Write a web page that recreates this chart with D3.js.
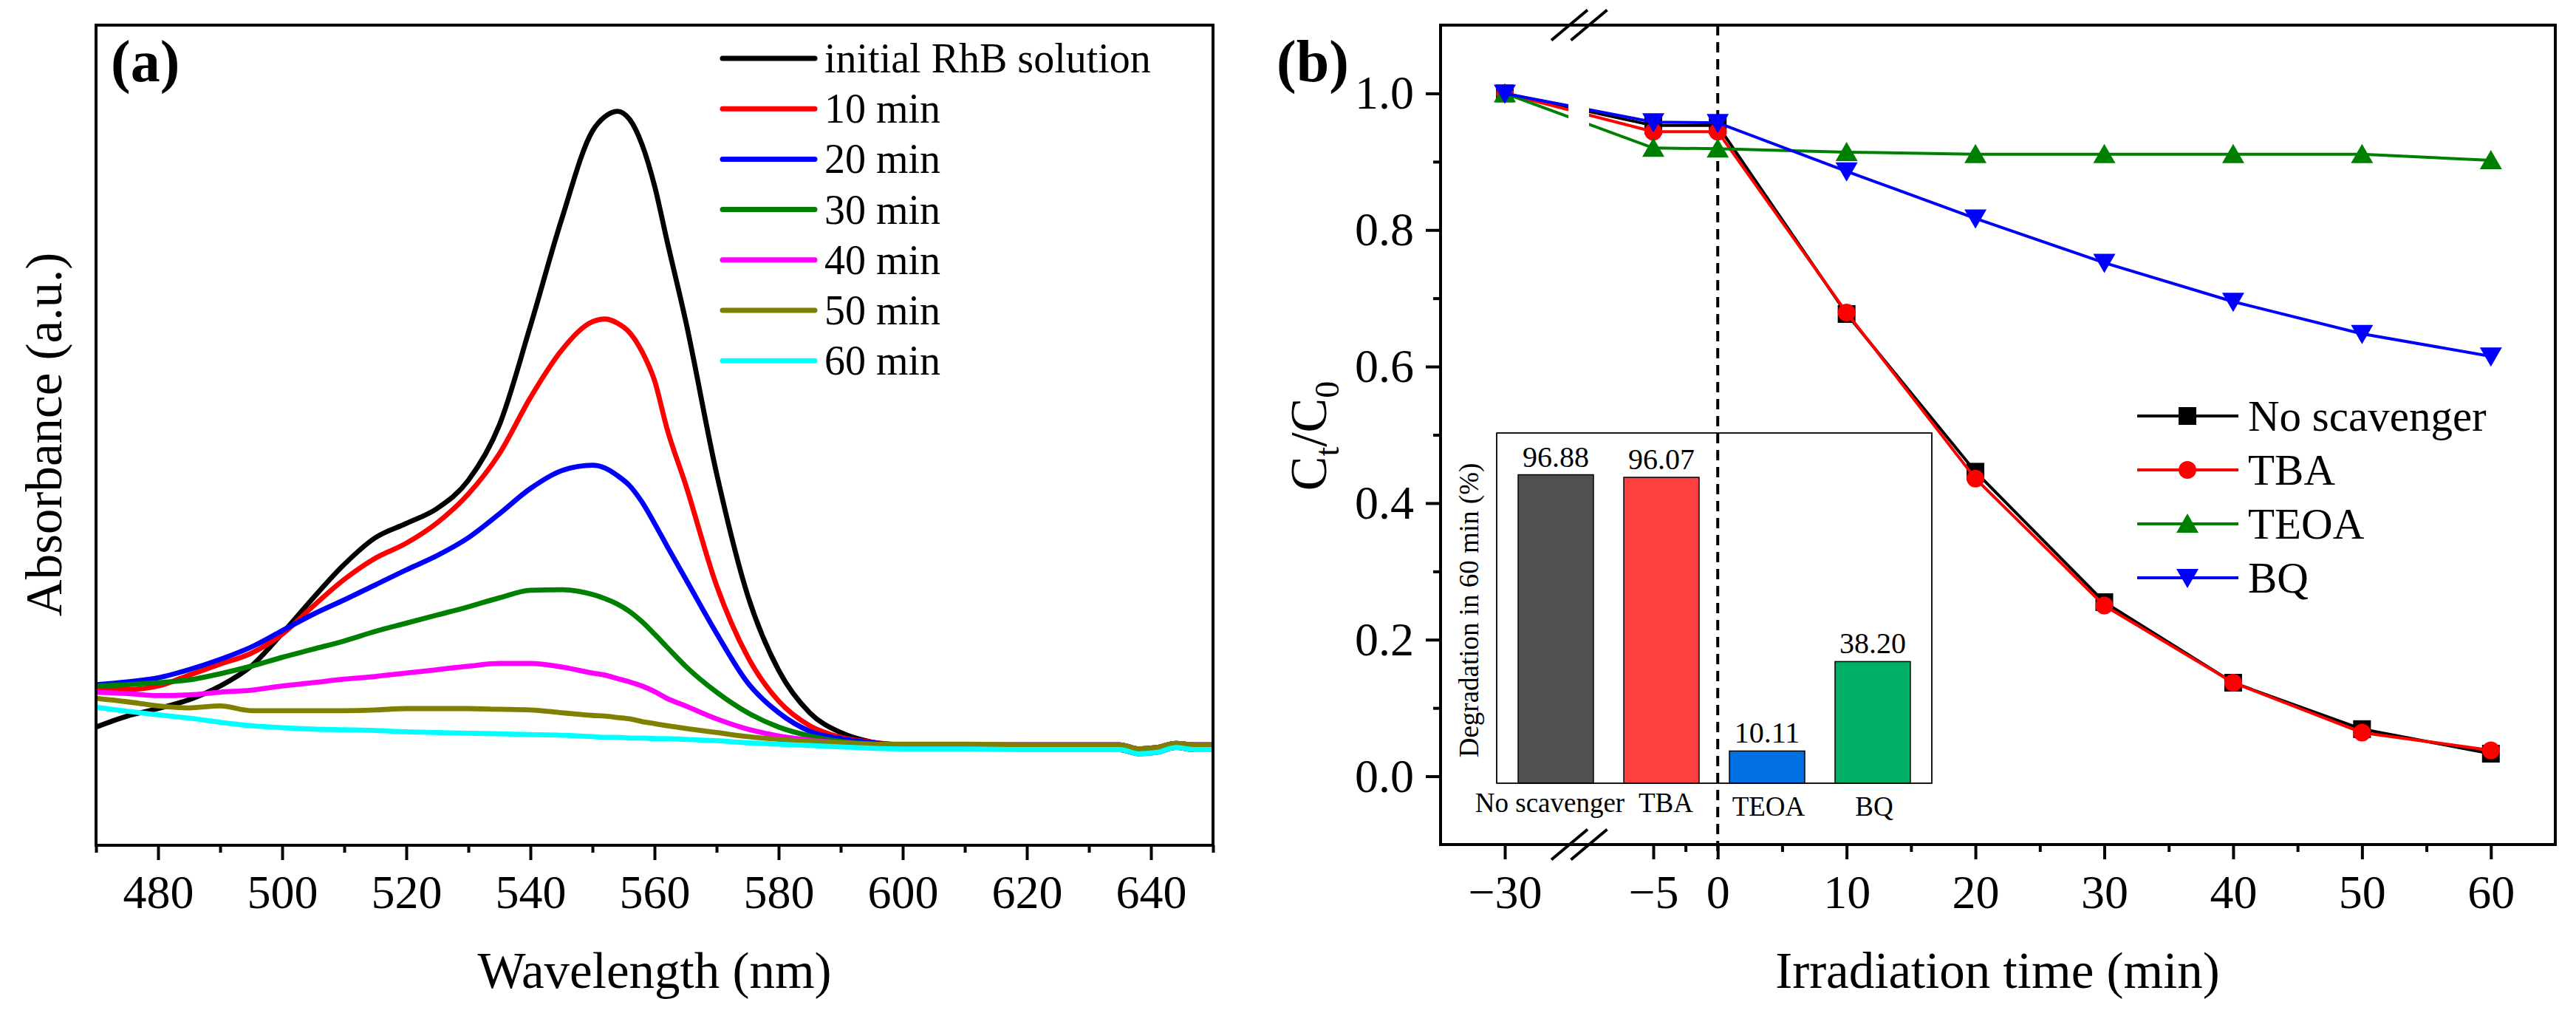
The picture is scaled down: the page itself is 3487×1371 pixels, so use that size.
<!DOCTYPE html>
<html><head><meta charset="utf-8">
<script src="https://cdn.jsdelivr.net/npm/d3@7"></script>
<style>
body{margin:0;background:#fff}
svg{display:block;background:#fff}
</style>
</head><body>
<svg id="c" width="3487" height="1371"></svg>
<script>
// ---------------- DATA: panel (a) UV-vis spectra ----------------
const wavelengths = [470,475,480,485,490,495,500,505,510,515,520,525,530,535,540,545,550,552,554,556,558,560,562,565,570,575,580,585,590,595,600,610,620,630,635,638,641,644,647,650];
const absInitial = [0.173,0.189,0.200,0.213,0.233,0.262,0.310,0.362,0.411,0.450,0.471,0.493,0.534,0.615,0.760,0.915,1.045,1.066,1.074,1.062,1.025,0.965,0.885,0.768,0.544,0.366,0.256,0.194,0.165,0.151,0.146,0.144,0.142,0.141,0.140,0.134,0.136,0.143,0.140,0.140];
const abs10 = [0.228,0.228,0.233,0.249,0.265,0.281,0.309,0.350,0.389,0.420,0.442,0.472,0.514,0.573,0.655,0.724,0.766,0.770,0.764,0.750,0.722,0.680,0.610,0.528,0.380,0.276,0.211,0.175,0.158,0.151,0.147,0.147,0.147,0.147,0.147,0.141,0.143,0.149,0.147,0.147];
const abs20 = [0.235,0.239,0.245,0.257,0.272,0.290,0.314,0.338,0.359,0.381,0.403,0.424,0.450,0.485,0.522,0.548,0.556,0.552,0.541,0.526,0.502,0.471,0.438,0.390,0.310,0.238,0.194,0.167,0.156,0.150,0.147,0.147,0.147,0.147,0.147,0.141,0.143,0.149,0.147,0.147];
const abs30 = [0.233,0.235,0.238,0.242,0.251,0.262,0.275,0.287,0.299,0.313,0.325,0.337,0.349,0.362,0.373,0.374,0.367,0.361,0.353,0.342,0.327,0.309,0.290,0.262,0.224,0.194,0.173,0.160,0.152,0.148,0.147,0.147,0.147,0.147,0.147,0.141,0.143,0.149,0.147,0.147];
const abs40 = [0.224,0.222,0.219,0.220,0.224,0.227,0.233,0.238,0.243,0.247,0.252,0.257,0.262,0.266,0.266,0.261,0.252,0.249,0.244,0.239,0.233,0.225,0.215,0.204,0.185,0.170,0.160,0.154,0.150,0.148,0.147,0.147,0.147,0.147,0.147,0.141,0.143,0.149,0.147,0.147];
const abs50 = [0.215,0.210,0.204,0.201,0.204,0.197,0.197,0.197,0.197,0.198,0.200,0.200,0.200,0.199,0.198,0.194,0.190,0.189,0.187,0.185,0.181,0.178,0.175,0.171,0.165,0.159,0.155,0.152,0.150,0.148,0.148,0.148,0.147,0.147,0.147,0.141,0.143,0.149,0.147,0.147];
const abs60 = [0.202,0.196,0.191,0.186,0.180,0.175,0.172,0.170,0.169,0.168,0.166,0.165,0.164,0.163,0.162,0.161,0.159,0.158,0.158,0.157,0.157,0.156,0.156,0.155,0.153,0.150,0.148,0.146,0.144,0.142,0.141,0.141,0.140,0.140,0.140,0.134,0.136,0.143,0.140,0.140];
const spectraNames = ["initial RhB solution","10 min","20 min","30 min","40 min","50 min","60 min"];
const spectraColors = ["#000000","#FF0000","#0000FF","#008000","#FF00FF","#808000","#00FFFF"];
const wlTicks = [480,500,520,540,560,580,600,620,640];
const wlMinor = [470,490,510,530,550,570,590,610,630,650];

// ---------------- DATA: panel (b) kinetics ----------------
const times = [-30,-5,0,10,20,30,40,50,60];
const noScavenger = [1.000,0.953,0.953,0.677,0.446,0.255,0.137,0.069,0.033];
const tba = [1.000,0.944,0.944,0.679,0.436,0.250,0.137,0.064,0.038];
const teoa = [1.000,0.920,0.919,0.914,0.911,0.911,0.911,0.911,0.902];
const bq = [1.000,0.958,0.957,0.886,0.817,0.752,0.695,0.648,0.615];
const kinNames = ["No scavenger","TBA","TEOA","BQ"];
const kinColors = ["#000000","#FF0000","#008000","#0000FF"];
const kinSymbols = ["square","circle","triUp","triDown"];
const timeTicks = [-30,-5,0,10,20,30,40,50,60];
const timeMinor = [-2.5,5,15,25,35,45,55];
const ctTicks = [0,0.2,0.4,0.6,0.8,1.0];
const ctMinor = [0.1,0.3,0.5,0.7,0.9];

// ---------------- DATA: inset bars ----------------
const barCats = ["No scavenger","TBA","TEOA","BQ"];
const barVals = [96.88,96.07,10.11,38.20];
const barColors = ["#505050","#FF4040","#0070E0","#00AE64"];
const barLabelShift = [-8,6,2,2];

const FONT = '"Liberation Serif","Times New Roman",Times,serif';
const svg = d3.select('#c');

function styleAxis(g, fs){
  g.attr('font-family', FONT).attr('font-size', fs);
  g.select('.domain').remove();
  g.selectAll('.tick line').attr('stroke','#000').attr('stroke-width',4);
  g.selectAll('.tick text').attr('fill','#000').attr('font-family',FONT).attr('font-size',fs);
}

// ================= PANEL (a) =================
const xA = d3.scaleLinear().domain([470,650]).range([130,1642]);
const yA = d3.scaleLinear().domain([0,1.2]).range([1144,34]);
const gA = svg.append('g');

const series = [absInitial,abs10,abs20,abs30,abs40,abs50,abs60];
const lineA = d3.line().x(d=>xA(d[0])).y(d=>yA(d[1])).curve(d3.curveMonotoneX);
series.forEach((s,i)=>{
  gA.append('path').datum(wavelengths.map((w,j)=>[w,s[j]]))
    .attr('d',lineA).attr('fill','none').attr('stroke',spectraColors[i])
    .attr('stroke-width',6.8).attr('stroke-linejoin','round');
});

// frame
gA.append('rect').attr('x',130).attr('y',34).attr('width',1642-130).attr('height',1144-34)
  .attr('fill','none').attr('stroke','#000').attr('stroke-width',4);

const axA = gA.append('g').attr('transform','translate(0,1144)')
  .call(d3.axisBottom(xA).tickValues(wlTicks).tickSize(20).tickSizeOuter(0).tickPadding(20).tickFormat(d3.format('d')));
styleAxis(axA,64);
const axAm = gA.append('g').attr('transform','translate(0,1144)')
  .call(d3.axisBottom(xA).tickValues(wlMinor).tickSize(10).tickSizeOuter(0).tickFormat(''));
styleAxis(axAm,64);

// legend (a)
spectraNames.forEach((n,i)=>{
  const yy = 79 + i*68.2;
  gA.append('line').attr('x1',978).attr('x2',1103).attr('y1',yy).attr('y2',yy)
    .attr('stroke',spectraColors[i]).attr('stroke-width',7).attr('stroke-linecap','round');
  gA.append('text').attr('x',1116).attr('y',yy+19).text(n)
    .attr('font-family',FONT).attr('font-size',56).attr('fill','#000');
});

gA.append('text').attr('x',150).attr('y',110).text('(a)')
  .attr('font-family',FONT).attr('font-size',80).attr('font-weight','bold');
gA.append('text').attr('x',886).attr('y',1337).attr('text-anchor','middle').text('Wavelength (nm)')
  .attr('font-family',FONT).attr('font-size',69);
gA.append('text').attr('transform','translate(83,588) rotate(-90)').attr('text-anchor','middle')
  .text('Absorbance (a.u.)').attr('font-family',FONT).attr('font-size',69);

// ================= PANEL (b) =================
const xB = d3.scaleLinear().domain([-35,-30,-5,65]).range([1950,2037,2238,3459]);
const yB = d3.scaleLinear().domain([-0.1,1.1]).range([1143,34]);
const gB = svg.append('g');

// inset bar chart
const xI = d3.scaleBand().domain(barCats).range([2026,2615]).paddingInner(0.287).paddingOuter(0.203);
const yI = d3.scaleLinear().domain([0,110]).range([1060,586]);
const gI = gB.append('g');
gI.selectAll('rect.bar').data(barVals).enter().append('rect')
  .attr('x',(d,i)=>xI(barCats[i])).attr('width',xI.bandwidth())
  .attr('y',d=>yI(d)).attr('height',d=>yI(0)-yI(d))
  .attr('fill',(d,i)=>barColors[i]).attr('stroke','#000').attr('stroke-width',1.5);
gI.selectAll('text.val').data(barVals).enter().append('text')
  .attr('x',(d,i)=>xI(barCats[i])+xI.bandwidth()/2).attr('y',d=>yI(d)-11)
  .attr('text-anchor','middle').text(d=>d.toFixed(2))
  .attr('font-family',FONT).attr('font-size',40);
gI.append('rect').attr('x',2026).attr('y',586).attr('width',2615-2026).attr('height',1060-586)
  .attr('fill','none').attr('stroke','#000').attr('stroke-width',1.8);
gI.selectAll('text.cat').data(barCats).enter().append('text')
  .attr('x',(d,i)=>xI(d)+xI.bandwidth()/2+barLabelShift[i]).attr('y',(d,i)=>i<2?1099:1104)
  .attr('text-anchor','middle').text(d=>d)
  .attr('font-family',FONT).attr('font-size',37);
gI.append('text').attr('transform','translate(2001,826) rotate(-90)').attr('text-anchor','middle')
  .text('Degradation in 60 min (%)').attr('font-family',FONT).attr('font-size',37);

// clip for axis-break gap
const defs = svg.append('defs');
const cp = defs.append('clipPath').attr('id','gap');
cp.append('rect').attr('x',1940).attr('y',0).attr('width',2123-1940).attr('height',1371);
cp.append('rect').attr('x',2151).attr('y',0).attr('width',3487-2151).attr('height',1371);

// dashed line at t=0
gB.append('line').attr('x1',xB(0)).attr('x2',xB(0)).attr('y1',34).attr('y2',1163)
  .attr('stroke','#000').attr('stroke-width',4).attr('stroke-dasharray','14,9');

function symbolPath(type, cx, cy){
  if(type==='square') return `M${cx-12},${cy-12}h24v24h-24Z`;
  if(type==='circle') return `M${cx-12},${cy}a12,12 0 1,0 24,0a12,12 0 1,0 -24,0Z`;
  if(type==='triUp') return `M${cx},${cy-14}L${cx+15},${cy+12}L${cx-15},${cy+12}Z`;
  return `M${cx},${cy+14}L${cx+15},${cy-12}L${cx-15},${cy-12}Z`;
}

const kinSeries = [noScavenger,tba,teoa,bq];
const lineB = d3.line().x(d=>xB(d[0])).y(d=>yB(d[1]));
kinSeries.forEach((s,i)=>{
  const pts = times.map((t,j)=>[t,s[j]]);
  gB.append('path').datum(pts).attr('d',lineB).attr('fill','none')
    .attr('stroke',kinColors[i]).attr('stroke-width',4).attr('clip-path','url(#gap)');
  pts.forEach(p=>{
    gB.append('path').attr('d',symbolPath(kinSymbols[i],xB(p[0]),yB(p[1]))).attr('fill',kinColors[i]);
  });
});

// frame
gB.append('rect').attr('x',1950).attr('y',34).attr('width',3459-1950).attr('height',1143-34)
  .attr('fill','none').attr('stroke','#000').attr('stroke-width',4);

const minus = v => v<0 ? '\u2212'+Math.abs(v) : String(v);
const axBx = gB.append('g').attr('transform','translate(0,1143)')
  .call(d3.axisBottom(xB).tickValues(timeTicks).tickSize(20).tickSizeOuter(0).tickPadding(21).tickFormat(minus));
styleAxis(axBx,64);
const axBxm = gB.append('g').attr('transform','translate(0,1143)')
  .call(d3.axisBottom(xB).tickValues(timeMinor).tickSize(10).tickSizeOuter(0).tickFormat(''));
styleAxis(axBxm,64);
const axBy = gB.append('g').attr('transform','translate(1950,0)')
  .call(d3.axisLeft(yB).tickValues(ctTicks).tickSize(20).tickSizeOuter(0).tickPadding(16).tickFormat(d3.format('.1f')));
styleAxis(axBy,64);
const axBym = gB.append('g').attr('transform','translate(1950,0)')
  .call(d3.axisLeft(yB).tickValues(ctMinor).tickSize(10).tickSizeOuter(0).tickFormat(''));
styleAxis(axBym,64);

// break marks
[34,1143].forEach(yy=>{
  [2124.5,2151].forEach(cx=>{
    gB.append('line').attr('x1',cx-24.5).attr('y1',yy+20.5).attr('x2',cx+24.5).attr('y2',yy-20.5)
      .attr('stroke','#000').attr('stroke-width',4);
  });
});

// legend (b)
kinNames.forEach((n,i)=>{
  const yy = 563 + i*73;
  gB.append('line').attr('x1',2893).attr('x2',3030).attr('y1',yy).attr('y2',yy)
    .attr('stroke',kinColors[i]).attr('stroke-width',4);
  gB.append('path').attr('d',symbolPath(kinSymbols[i],2961,yy)).attr('fill',kinColors[i]);
  gB.append('text').attr('x',3043).attr('y',yy+20).text(n)
    .attr('font-family',FONT).attr('font-size',59);
});

gB.append('text').attr('x',1728).attr('y',110).text('(b)')
  .attr('font-family',FONT).attr('font-size',80).attr('font-weight','bold');
gB.append('text').attr('x',2704).attr('y',1337).attr('text-anchor','middle').text('Irradiation time (min)')
  .attr('font-family',FONT).attr('font-size',69);
const yt = gB.append('text').attr('transform','translate(1795,590) rotate(-90)').attr('text-anchor','middle')
  .attr('font-family',FONT).attr('font-size',70);
yt.append('tspan').text('C');
yt.append('tspan').text('t').attr('font-size',46).attr('dy',17);
yt.append('tspan').text('/').attr('dy',-17);
yt.append('tspan').text('C');
yt.append('tspan').text('0').attr('font-size',46).attr('dy',17);
</script>
</body></html>
